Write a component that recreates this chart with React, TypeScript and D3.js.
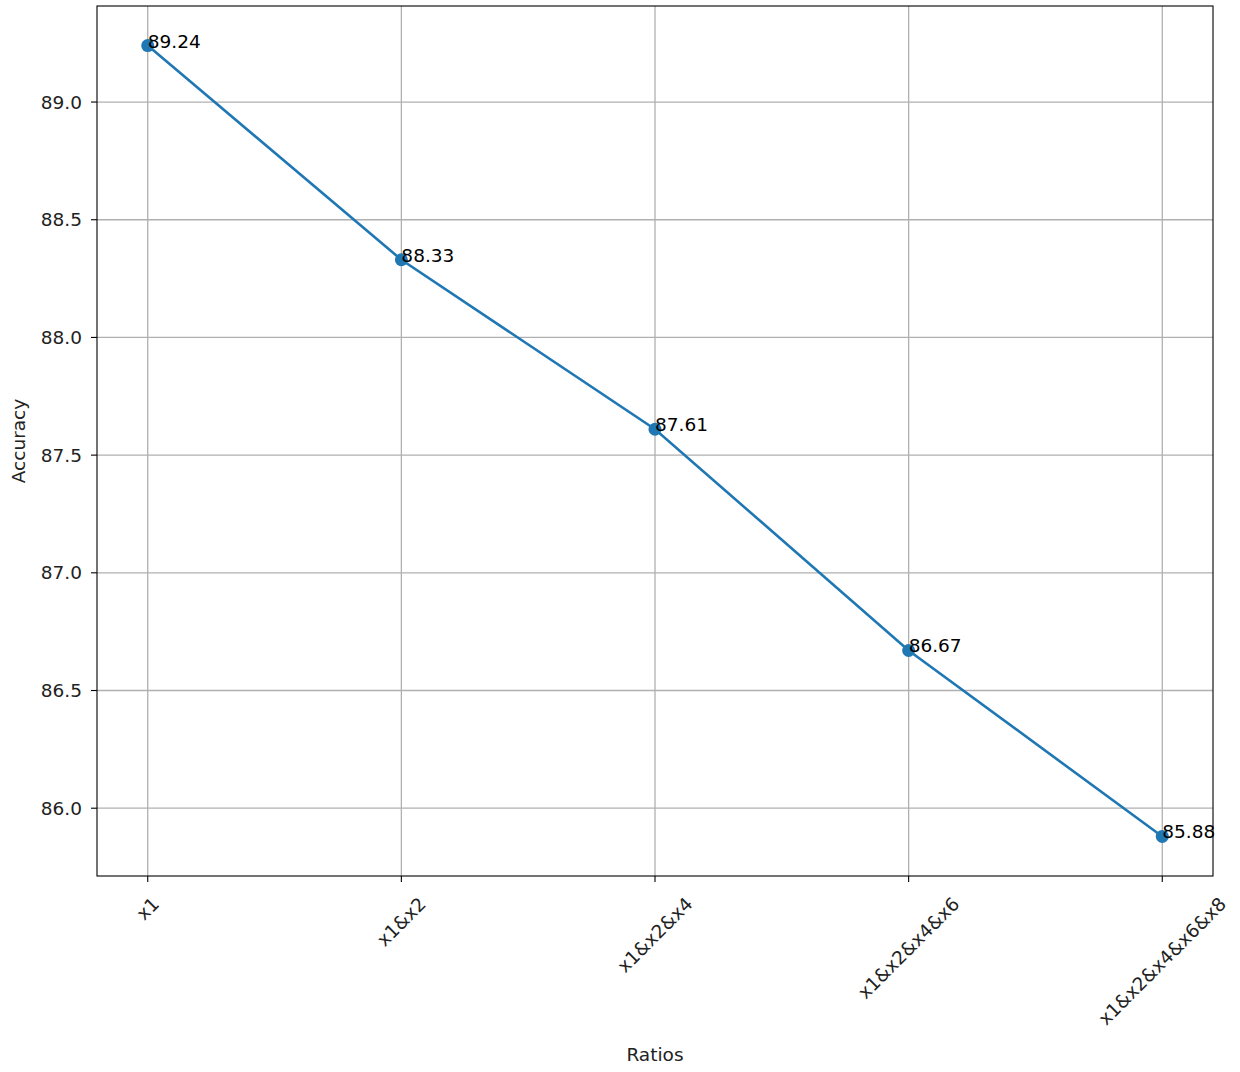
import React from "react";
import * as d3 from "d3";

const categories = ["x1", "x1&x2", "x1&x2&x4", "x1&x2&x4&x6", "x1&x2&x4&x6&x8"];
const accuracy = [89.24, 88.33, 87.61, 86.67, 85.88];
const yTicks = [86.0, 86.5, 87.0, 87.5, 88.0, 88.5, 89.0];

const W = 1240;
const H = 1072;
const FONT = "DejaVu Sans, sans-serif";
const FS = 18.5;

function measure(text: string): number {
  const c = document.createElement("canvas").getContext("2d");
  if (!c) return text.length * FS * 0.6;
  c.font = `${FS}px DejaVu Sans`;
  return c.measureText(text).width;
}

export default function App() {
  const left = 97, right = 1213, top = 6, bottom = 876;
  const x = d3.scaleLinear().domain([-0.2, 4.2]).range([left, right]);
  const yMin = d3.min(accuracy)!, yMax = d3.max(accuracy)!;
  const pad = (yMax - yMin) * 0.05;
  const y = d3.scaleLinear().domain([yMin - pad, yMax + pad]).range([bottom, top]);
  const line = d3.line<number>().x((_, i) => x(i)).y((d) => y(d));
  const color = "#1f77b4";
  const grid = "#b0b0b0";
  const textH = FS * 1.164;

  return (
    <svg width={W} height={H} style={{ position: "absolute", left: 0, top: 0, background: "#fff" }}
      fontFamily={FONT} fontSize={FS}>
      <rect x={0} y={0} width={W} height={H} fill="#fff" />
      {categories.map((_, i) => (
        <line key={"gx" + i} x1={x(i)} x2={x(i)} y1={top} y2={bottom} stroke={grid} strokeWidth={1.3} />
      ))}
      {yTicks.map((t) => (
        <line key={"gy" + t} x1={left} x2={right} y1={y(t)} y2={y(t)} stroke={grid} strokeWidth={1.3} />
      ))}
      <path d={line(accuracy) || ""} fill="none" stroke={color} strokeWidth={2.6} />
      {accuracy.map((v, i) => (
        <circle key={"p" + i} cx={x(i)} cy={y(v)} r={6.5} fill={color} />
      ))}
      {accuracy.map((v, i) => (
        <text key={"t" + i} x={x(i)} y={y(v)} fill="#000" dy={2}>{v.toFixed(2)}</text>
      ))}
      <rect x={left} y={top} width={right - left} height={bottom - top} fill="none" stroke="#000" strokeWidth={1.1} />
      {yTicks.map((t) => (
        <g key={"yt" + t}>
          <line x1={left - 6} x2={left} y1={y(t)} y2={y(t)} stroke="#000" strokeWidth={1.1} />
          <text x={82} y={y(t)} textAnchor="end" dominantBaseline="central" fill="#222">{t.toFixed(1)}</text>
        </g>
      ))}
      {categories.map((c, i) => {
        const w = measure(c);
        const side = (w + textH) * Math.SQRT1_2;
        const cx = x(i);
        const cy = 893 + side / 2;
        return (
          <g key={"xt" + i}>
            <line x1={cx} x2={cx} y1={bottom} y2={bottom + 6} stroke="#000" strokeWidth={1.1} />
            <text x={cx} y={cy} textAnchor="middle" dominantBaseline="central" fill="#222"
              transform={`rotate(-45, ${cx}, ${cy})`}>{c}</text>
          </g>
        );
      })}
      <text x={(left + right) / 2} y={1061} textAnchor="middle" fill="#222">Ratios</text>
      <text x={0} y={0} textAnchor="middle" fill="#222"
        transform={`translate(25, ${(top + bottom) / 2}) rotate(-90)`}>Accuracy</text>
    </svg>
  );
}
